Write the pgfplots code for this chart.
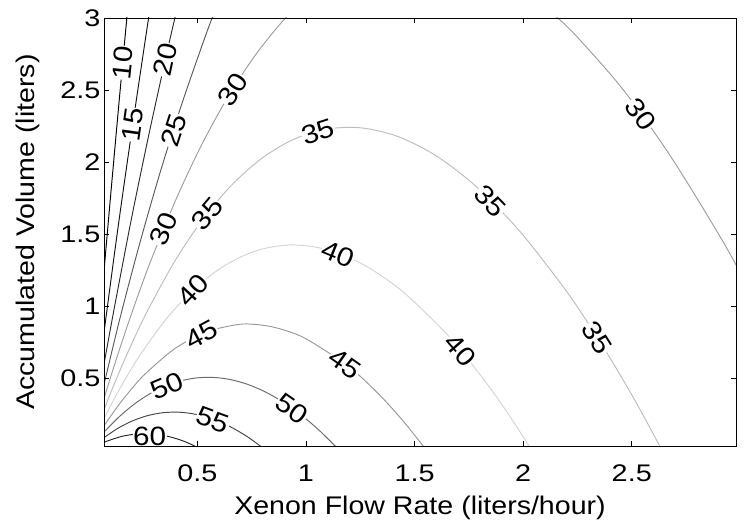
\documentclass[border=0pt]{standalone}
\usepackage{fontspec}
\setmainfont{Liberation Sans}
\newfontfamily\tickfont{Liberation Sans}[FakeStretch=1.2]
\newfontfamily\labfont{Liberation Sans}[FakeStretch=1.12]
\usepackage{pgfplots}
\pgfplotsset{compat=1.18}
\definecolor{c10}{gray}{0.0}
\definecolor{c15}{gray}{0.08}
\definecolor{c20}{gray}{0.18}
\definecolor{c25}{gray}{0.36}
\definecolor{c30}{gray}{0.62}
\definecolor{c35}{gray}{0.74}
\definecolor{c40}{gray}{0.83}
\definecolor{c45}{gray}{0.60}
\definecolor{c50}{gray}{0.42}
\definecolor{c55}{gray}{0.28}
\definecolor{c60}{gray}{0.15}
\tikzset{lab/.style={fill=white, inner sep=0.5bp, font=\labfont\fontsize{26.5bp}{28bp}\selectfont}}
\begin{document}
\begin{tikzpicture}
\begin{axis}[
  at={(104bp,84bp)}, anchor=south west,
  scale only axis, width=632bp, height=428bp,
  xmin=0.07, xmax=2.98, ymin=0.03, ymax=3,
  xtick={0.5,1,1.5,2,2.5}, xticklabels={0.5,1,1.5,2,2.5},
  ytick={0.5,1,1.5,2,2.5,3}, yticklabels={0.5,1,1.5,2,2.5,3},
  tick align=inside, major tick length=5bp,
  tick style={black, line width=0.8bp},
  axis line style={line width=0.8bp},
  xticklabel style={font=\tickfont\fontsize{24bp}{28bp}\selectfont, anchor=base, yshift=-35bp},
  yticklabel style={font=\tickfont\fontsize{24bp}{28bp}\selectfont},
  xlabel={Xenon Flow Rate (liters/hour)},
  ylabel={Accumulated Volume (liters)},
  xlabel style={font=\labfont\fontsize{25.5bp}{28bp}\selectfont, at={(axis description cs:0.5,-0.1612)}, anchor=base},
  ylabel style={font=\labfont\fontsize{25.5bp}{28bp}\selectfont, at={(axis description cs:-0.1092,0.5)}, anchor=base},
  axis on top, clip=true,
  every axis plot/.append style={line width=0.95bp, smooth, tension=0.5, no marks},
]
% level 10
\addplot[c10] coordinates {(0.0367,0.659) (0.0568,1.014) (0.0979,1.723) (0.140,2.428) (0.1834,3.134)};
% level 15
\addplot[c15] coordinates {(0.042,0.500) (0.072,0.841) (0.132,1.518) (0.195,2.186) (0.260,2.847) (0.293,3.174)};
% level 20
\addplot[c20] coordinates {(0.045,0.392) (0.083,0.706) (0.121,1.016) (0.199,1.627) (0.281,2.222) (0.366,2.802) (0.410,3.086)};
% level 25
\addplot[c25] coordinates {(0.051,0.336) (0.139,0.889) (0.232,1.422) (0.329,1.931) (0.431,2.416) (0.537,2.875) (0.591,3.091)};
% level 30 (left branch)
\addplot[c30] coordinates {(0.0356,0.186) (0.0845,0.431) (0.1346,0.669) (0.1858,0.900) (0.2382,1.124) (0.2919,1.340) (0.4031,1.747) (0.5196,2.120) (0.6417,2.455) (0.7697,2.748) (0.9044,2.998) (1.045,3.198)};
% level 30 (right branch)
\addplot[c30] coordinates {(3.401,0) (3.274,0.417) (3.148,0.803) (3.026,1.158) (2.907,1.482) (2.676,2.047) (2.458,2.507) (2.249,2.868) (2.149,3.014) (2.051,3.138)};
% level 35
\addplot[c35] coordinates {(2.6395,0) (2.5239,0.3218) (2.4104,0.6147) (2.3001,0.8798) (2.1925,1.1182) (1.9852,1.5187) (1.7885,1.8243) (1.6014,2.0417) (1.4233,2.1776) (1.2536,2.2377) (1.0923,2.2283) (0.939,2.155) (0.793,2.022) (0.654,1.8345) (0.5217,1.5965) (0.3958,1.3121) (0.2758,0.9846) (0.218,0.806) (0.1615,0.6177) (0.1064,0.4207) (0.0524,0.2138)};
% level 40
\addplot[c40] coordinates {(2.0396,0) (1.9343,0.2466) (1.8309,0.4669) (1.7302,0.6618) (1.632,0.8323) (1.4434,1.1042) (1.264,1.2893) (1.0936,1.3943) (0.9317,1.4255) (0.7777,1.3882) (0.6312,1.2876) (0.492,1.1291) (0.3596,0.9171) (0.2337,0.6556) (0.1731,0.5076) (0.114,0.3487) (0.0561,0.1788)};
% level 45
\addplot[c45] coordinates {(1.5551,0) (1.4572,0.1858) (1.3623,0.3474) (1.2697,0.4857) (1.1794,0.6015) (1.0059,0.7695) (0.9225,0.8233) (0.841,0.8579) (0.7618,0.8742) (0.6844,0.8726) (0.5357,0.8196) (0.3944,0.7040) (0.2602,0.5308) (0.1956,0.424) (0.1327,0.3046) (0.0713,0.1727) (0.0472,0.1168)};
% level 50
\addplot[c50] coordinates {(1.1538,0) (1.0631,0.1355) (0.975,0.2486) (0.8891,0.3401) (0.8055,0.4108) (0.724,0.4616) (0.6447,0.4932) (0.5673,0.5063) (0.492,0.5018) (0.4186,0.4803) (0.3471,0.4425) (0.2774,0.3891) (0.2095,0.3206) (0.1434,0.2377) (0.079,0.1409) (0.0536,0.0985)};
% level 55
\addplot[c55] coordinates {(0.8158,0) (0.7314,0.0933) (0.6491,0.1655) (0.569,0.2176) (0.491,0.2504) (0.415,0.2646) (0.3411,0.2609) (0.269,0.2401) (0.1988,0.2028) (0.1305,0.1497) (0.0639,0.0815)};
% level 60
\addplot[c60] coordinates {(0.5273,0) (0.448,0.0571) (0.3709,0.0946) (0.2957,0.1131) (0.2226,0.1135) (0.1514,0.0965) (0.0821,0.0628) (0.0549,0.0448)};
% contour labels
\node[lab, rotate=84] at (axis cs:0.156,2.69) {10};
\node[lab, rotate=82] at (axis cs:0.202,2.26) {15};
\node[lab, rotate=78] at (axis cs:0.352,2.71) {20};
\node[lab, rotate=72] at (axis cs:0.39,2.22) {25};
\node[lab, rotate=57] at (axis cs:0.664,2.505) {30};
\node[lab, rotate=68] at (axis cs:0.345,1.535) {30};
\node[lab, rotate=-54] at (axis cs:2.54,2.33) {30};
\node[lab, rotate=50] at (axis cs:0.545,1.639) {35};
\node[lab, rotate=18] at (axis cs:1.056,2.211) {35};
\node[lab, rotate=-46] at (axis cs:1.849,1.730) {35};
\node[lab, rotate=-58] at (axis cs:2.342,0.779) {35};
\node[lab, rotate=47] at (axis cs:0.48,1.11) {40};
\node[lab, rotate=-22] at (axis cs:1.148,1.361) {40};
\node[lab, rotate=-49] at (axis cs:1.711,0.695) {40};
\node[lab, rotate=28] at (axis cs:0.52,0.80) {45};
\node[lab, rotate=-35] at (axis cs:1.179,0.60) {45};
\node[lab, rotate=23] at (axis cs:0.36,0.447) {50};
\node[lab, rotate=-35] at (axis cs:0.936,0.29) {50};
\node[lab, rotate=-20] at (axis cs:0.572,0.21) {55};
\node[lab, rotate=0] at (axis cs:0.28,0.10) {60};
\end{axis}
\pgfresetboundingbox
\path (0,0) rectangle (750bp,530bp);
\end{tikzpicture}
\end{document}
